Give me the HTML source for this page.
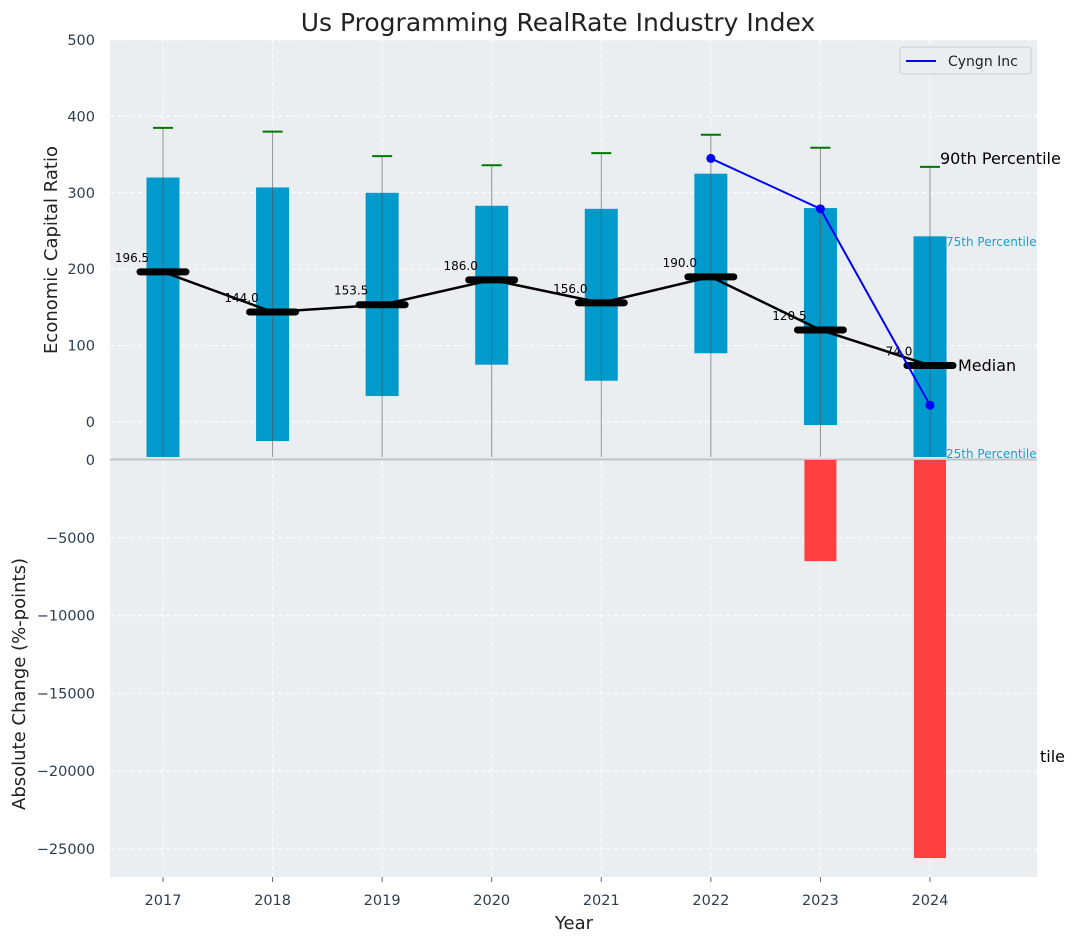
<!DOCTYPE html>
<html><head><meta charset="utf-8"><style>
body{margin:0;background:#fff;font-family:"DejaVu Sans","Liberation Sans",sans-serif}
svg text{font-family:"DejaVu Sans","Liberation Sans",sans-serif}
</style></head><body>
<svg id="chart" width="1076" height="942" xmlns="http://www.w3.org/2000/svg"></svg>
<script>
const years=['2017','2018','2019','2020','2021','2022','2023','2024'];
const q25=[-46,-25,34,75,54,90,-4,-46];
const q75=[320,307,300,283,279,325,280,243];
const p90=[385,380,348,336,352,376,359,334];
const medians=[196.5,144.0,153.5,186.0,156.0,190.0,120.5,74.0];
const cyngnYears=['2022','2023','2024'];
const cyngnValues=[345,279,22];
const changeYears=['2023','2024'];
const changeValues=[-6500,-25580];
const topTicks=[0,100,200,300,400,500];
const botTicks=[0,-5000,-10000,-15000,-20000,-25000];

const svg=document.getElementById('chart');
const NS='http://www.w3.org/2000/svg';
function el(tag,attrs,parent,text){const e=document.createElementNS(NS,tag);for(const k in attrs)e.setAttribute(k,attrs[k]);if(text!==undefined)e.textContent=text;(parent||svg).appendChild(e);return e;}
const L=110,R=1037;
const x=i=>163+i*109.57;
const yT=v=>422-v*0.764;
const yB=v=>460-v*77.8/5000;

let t=el('text',{x:558,y:31,'text-anchor':'middle','font-size':25,fill:'#222'},svg,'Us Programming RealRate Industry Index');

let bg=el('rect',{x:L,y:40,width:R-L,height:420,fill:'#eaeef0'});

let bg2=el('rect',{x:L,y:460,width:R-L,height:417,fill:'#eaeef0'});

years.forEach((y,i)=>{el('line',{x1:x(i),x2:x(i),y1:40,y2:877,stroke:'#fff','stroke-dasharray':'4,3','stroke-width':1,opacity:0.9});});
topTicks.forEach(v=>{const yy=yT(v);el('line',{x1:L,x2:R,y1:yy,y2:yy,stroke:'#fff','stroke-dasharray':'4,3'});
 const tk=el('text',{x:95,y:yy+5,'text-anchor':'end','font-size':14.5,fill:'#2c3e50'},svg,String(v));
 });
botTicks.forEach(v=>{const yy=yB(v);el('line',{x1:L,x2:R,y1:yy,y2:yy,stroke:'#fff','stroke-dasharray':'4,3'});
 const lab=v<0?'\u2212'+Math.abs(v):String(v);
 const tk=el('text',{x:95,y:yy+5,'text-anchor':'end','font-size':14.5,fill:'#2c3e50'},svg,lab);
 });
el('line',{x1:L,x2:R,y1:459.5,y2:459.5,stroke:'#c0c4c6','stroke-width':2});
years.forEach((y,i)=>{
 const top=yT(q75[i]),bot=Math.min(yT(q25[i]),457);
 const b=el('rect',{x:x(i)-16.5,y:top,width:33,height:bot-top,fill:'#009acd'});
 
 el('line',{x1:x(i),x2:x(i),y1:yT(p90[i]),y2:457,stroke:'#555','stroke-width':1,opacity:0.6});
 const w=el('line',{x1:x(i)-10,x2:x(i)+10,y1:yT(p90[i]),y2:yT(p90[i]),stroke:'#007700','stroke-width':2});
 
});
el('polyline',{points:medians.map((m,i)=>x(i)+','+yT(m)).join(' '),fill:'none',stroke:'#000','stroke-width':2.5});
medians.forEach((m,i)=>{
 const mk=el('line',{x1:x(i)-23,x2:x(i)+23,y1:yT(m),y2:yT(m),stroke:'#000','stroke-width':7,'stroke-linecap':'round'});
 
 const lb=el('text',{x:x(i)-31,y:yT(m)-10,'text-anchor':'middle','font-size':12,fill:'#000'},svg,m.toFixed(1));
 
});
const cp=cyngnYears.map((y,k)=>x(years.indexOf(y))+','+yT(cyngnValues[k])).join(' ');
const cl=el('polyline',{points:cp,fill:'none',stroke:'#0000ff','stroke-width':2});

cyngnYears.forEach((y,k)=>{const d=el('circle',{cx:x(years.indexOf(y)),cy:yT(cyngnValues[k]),r:4.5,fill:'#0000ff'});
 });
changeYears.forEach((y,k)=>{const i=years.indexOf(y);const b=el('rect',{x:x(i)-16,y:460,width:32,height:yB(changeValues[k])-460,fill:'#ff4040'});
 });
const ann=[[940,164,'90th Percentile',16,'#000'],[946,246,'75th Percentile',12,'#1a9fcf'],[958,371,'Median',16,'#000'],[946,458,'25th Percentile',12,'#1a9fcf'],[1040,762,'tile',16,'#000']];
ann.forEach(a=>{const e=el('text',{x:a[0],y:a[1],'font-size':a[3],fill:a[4]},svg,a[2]);});
years.forEach((y,i)=>{el('line',{x1:x(i),x2:x(i),y1:877,y2:882,stroke:'#666'});
 const tk=el('text',{x:x(i),y:905,'text-anchor':'middle','font-size':14.5,fill:'#2c3e50'},svg,y);
 });
let xl=el('text',{x:574,y:929,'text-anchor':'middle','font-size':18,fill:'#222'},svg,'Year');

let y1=el('text',{transform:'translate(57,250) rotate(-90)','text-anchor':'middle','font-size':18,fill:'#222'},svg,'Economic Capital Ratio');

let y2=el('text',{transform:'translate(25,684) rotate(-90)','text-anchor':'middle','font-size':18,fill:'#222'},svg,'Absolute Change (%-points)');

const lg=el('g',{});
el('rect',{x:900,y:47,width:131,height:27,rx:3,fill:'#eaeef0',stroke:'#ccc'},lg);
el('line',{x1:906,x2:936,y1:61,y2:61,stroke:'#0000ff','stroke-width':2},lg);
el('text',{x:948,y:66,'font-size':14,fill:'#222'},lg,'Cyngn Inc');
</script>
</body></html>
